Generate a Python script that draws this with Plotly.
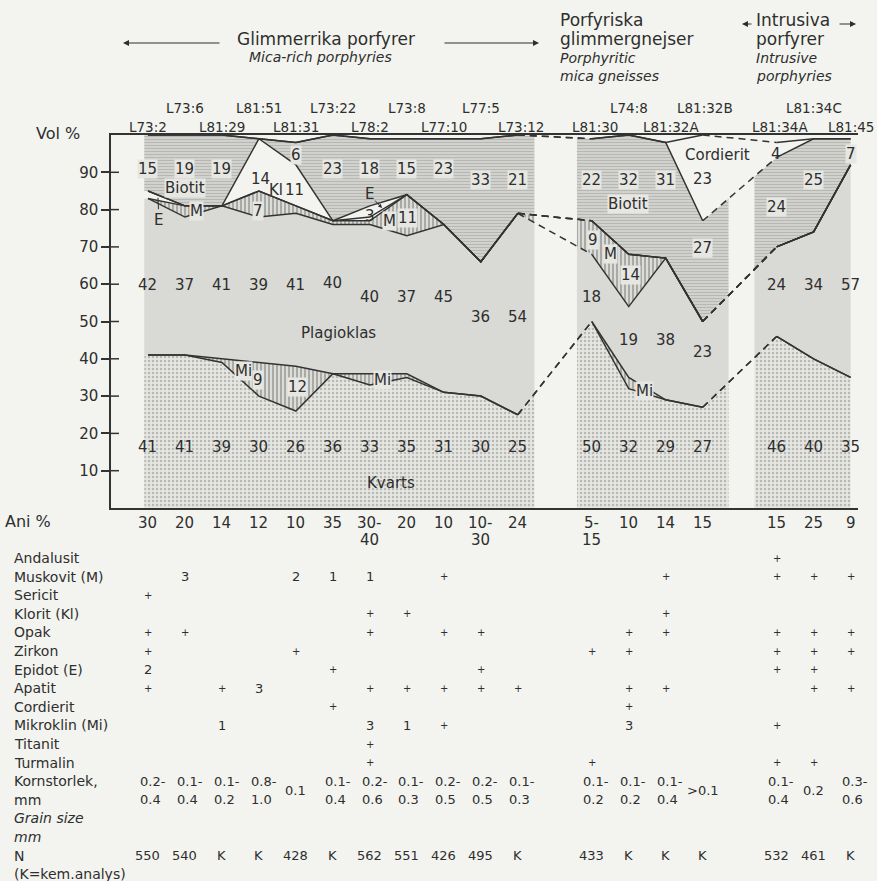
import numpy as np
import plotly.graph_objects as go

PAGE = "#f3f4ef"
INK = "#2e2e2e"
FONT = "DejaVu Sans"

# ---------------- data ----------------
columns = [0, 1, 2, 3, 4, 5, 6, 7, 8, 9, 10, 12, 13, 14, 15, 17, 18, 19]
samples = ["L73:2", "L73:6", "L81:29", "L81:51", "L81:31", "L73:22", "L78:2", "L73:8",
           "L77:10", "L77:5", "L73:12", "L81:30", "L74:8", "L81:32A", "L81:32B",
           "L81:34A", "L81:34C", "L81:45"]

kvarts     = [41, 41, 39, 30, 26, 36, 33, 35, 31, 30, 25, 50, 32, 29, 27, 46, 40, 35]
mikroklin  = [0, 0, 1, 9, 12, 0, 3, 1, 0, 0, 0, 0, 3, 0, 0, 0, 0, 0]
plagioklas = [42, 37, 41, 39, 41, 40, 40, 37, 45, 36, 54, 18, 19, 38, 23, 24, 34, 57]
muskovit   = [0, 3, 0, 7, 2, 1, 1, 11, 0, 0, 0, 9, 14, 0, 0, 0, 0, 0]
epidot     = [2, 0, 0, 0, 0, 0, 1, 0, 0, 0, 0, 0, 0, 0, 0, 0, 0, 0]
klorit     = [0, 0, 0, 14, 11, 0, 3, 0, 0, 0, 0, 0, 0, 0, 0, 0, 0, 0]
biotit     = [15, 19, 19, 0, 6, 23, 18, 15, 23, 33, 21, 22, 32, 31, 27, 24, 25, 7]
cordierit  = [0, 0, 0, 0, 0, 0, 0, 0, 0, 0, 0, 0, 0, 0, 23, 4, 0, 0]

ani = ["30", "20", "14", "12", "10", "35", "30-|40", "20", "10", "10-|30", "24",
       "5-|15", "10", "14", "15", "15", "25", "9"]

table_rows = [
    ("Andalusit",      ["", "", "", "", "", "", "", "", "", "", "", "", "", "", "", "+", "", ""]),
    ("Muskovit (M)",   ["", "3", "", "", "2", "1", "1", "", "+", "", "", "", "", "+", "", "+", "+", "+"]),
    ("Sericit",        ["+", "", "", "", "", "", "", "", "", "", "", "", "", "", "", "", "", ""]),
    ("Klorit (Kl)",    ["", "", "", "", "", "", "+", "+", "", "", "", "", "", "+", "", "", "", ""]),
    ("Opak",           ["+", "+", "", "", "", "", "+", "", "+", "+", "", "", "+", "+", "", "+", "+", "+"]),
    ("Zirkon",         ["+", "", "", "", "+", "", "", "", "", "", "", "+", "+", "", "", "+", "+", "+"]),
    ("Epidot (E)",     ["2", "", "", "", "", "+", "", "", "", "+", "", "", "", "", "", "+", "+", ""]),
    ("Apatit",         ["+", "", "+", "3", "", "", "+", "+", "+", "+", "+", "", "+", "+", "", "", "+", "+"]),
    ("Cordierit",      ["", "", "", "", "", "+", "", "", "", "", "", "", "+", "", "", "", "", ""]),
    ("Mikroklin (Mi)", ["", "", "1", "", "", "", "3", "1", "+", "", "", "", "3", "", "", "+", "", ""]),
    ("Titanit",        ["", "", "", "", "", "", "+", "", "", "", "", "", "", "", "", "", "", ""]),
    ("Turmalin",       ["", "", "", "", "", "", "+", "", "", "", "", "+", "", "", "", "+", "+", ""]),
]
kornstorlek = ["0.2-|0.4", "0.1-|0.4", "0.1-|0.2", "0.8-|1.0", "0.1", "0.1-|0.4", "0.2-|0.6",
               "0.1-|0.3", "0.2-|0.5", "0.2-|0.5", "0.1-|0.3", "0.1-|0.2", "0.1-|0.2",
               "0.1-|0.4", ">0.1", "0.1-|0.4", "0.2", "0.3-|0.6"]
n_values = ["550", "540", "K", "K", "428", "K", "562", "551", "426", "495", "K",
            "433", "K", "K", "K", "532", "461", "K"]

# ---------------- layout helpers ----------------
W, H = 877, 881
X0, X1 = 111, 858      # plot area in px
Y0, Y1 = 508, 135


def pxx(p):
    return (p - X0) / (X1 - X0)


def pxy(p):
    return (Y0 - p) / (Y0 - Y1)


layers = [kvarts, mikroklin, plagioklas, muskovit, epidot, klorit, biotit, cordierit]
cum = np.cumsum(np.array(layers, dtype=float), axis=0)
x_all = np.array(columns, dtype=float)

groups = [(0, 10, -0.1, 10.45), (12, 15, 11.6, 15.7), (17, 19, 16.4, 19.0)]

hatch_v = dict(shape="|", bgcolor="#dcddd8", fgcolor="#3c3c3c", size=4, solidity=0.32)
styles = [
    dict(fillpattern=dict(shape=".", bgcolor="#e5e6e1", fgcolor="#8a8b87", size=4, solidity=0.3)),
    dict(fillpattern=hatch_v),
    dict(fillcolor="#d9dad5"),
    dict(fillpattern=hatch_v),
    dict(fillcolor=PAGE),
    dict(fillcolor=PAGE),
    dict(fillpattern=dict(shape="-", bgcolor="#d6d7d2", fgcolor="#979894", size=3, solidity=0.45)),
    dict(fillcolor=PAGE),
]

fig = go.Figure()

# stacked fills per column group
for (c0, c1, e0, e1) in groups:
    inner = [c for c in columns if c0 <= c <= c1]
    xs = np.array([e0] + inner + [e1], dtype=float)
    fig.add_trace(go.Scatter(x=xs, y=np.zeros_like(xs), mode="lines", line=dict(width=0),
                             hoverinfo="skip", showlegend=False))
    for k in range(len(layers)):
        ys = np.interp(xs, x_all, cum[k])
        fig.add_trace(go.Scatter(x=xs, y=ys, mode="lines", line=dict(width=0), fill="tonexty",
                                 hoverinfo="skip", showlegend=False, **styles[k]))

# boundary lines: solid inside groups, dashed across the gaps
sx, sy, dx, dy = [], [], [], []
for k in range(len(layers)):
    prev_last = None
    for (c0, c1, e0, e1) in groups:
        idx = [i for i, c in enumerate(columns) if c0 <= c <= c1]
        sx += [columns[i] for i in idx] + [None]
        sy += [float(cum[k][i]) for i in idx] + [None]
        if prev_last is not None:
            dx += [columns[prev_last], columns[idx[0]], None]
            dy += [float(cum[k][prev_last]), float(cum[k][idx[0]]), None]
        prev_last = idx[-1]

fig.add_trace(go.Scatter(x=sx, y=sy, mode="lines", line=dict(color="#333333", width=1.5),
                         hoverinfo="skip", showlegend=False, connectgaps=False))
fig.add_trace(go.Scatter(x=dx, y=dy, mode="lines",
                         line=dict(color="#333333", width=1.5, dash="7px,5px"),
                         hoverinfo="skip", showlegend=False, connectgaps=False))

annotations = []


def ann(text, x, y, xref="x", yref="y", size=15, xanchor="center", yanchor="middle",
        bg=None, **kw):
    d = dict(text=text, x=x, y=y, xref=xref, yref=yref, showarrow=False,
             font=dict(family=FONT, size=size, color=INK), xanchor=xanchor, yanchor=yanchor)
    if bg:
        d["bgcolor"] = bg
        d["borderpad"] = 0
    d.update(kw)
    annotations.append(d)


LBG = "#e6e7e2"

# Kvarts numbers
for i, c in enumerate(columns):
    ann(str(kvarts[i]), c, 16.4)

# Plagioklas numbers
plag_y = [59.8, 59.8, 59.8, 59.8, 59.8, 60.3, 56.6, 56.6, 56.6, 51.2, 51.2,
          56.6, 45, 45, 41.8, 59.8, 59.8, 59.8]
for i, c in enumerate(columns):
    ann(str(plagioklas[i]), c, plag_y[i])

# Biotit numbers
bio_y = [91, 91, 91, None, 94.6, 91, 91, 91, 91, 88, 88, 88, 88, 88, 69.6, 80.7, 88, 94.9]
for i, c in enumerate(columns):
    if biotit[i] and bio_y[i] is not None:
        ann(str(biotit[i]), c, bio_y[i], bg=LBG)

# free labels
ann("Biotit", 1.0, 85.7, bg=LBG)
ann(str(klorit[3]), 3.03, 88.2)
ann("Kl", 3.46, 85.3)
ann(str(klorit[4]), 3.95, 85.3)
ann(str(muskovit[3]), 2.97, 79.6, bg=LBG)
ann("M", 1.3, 79.6, bg=LBG)
ann("E", 0.27, 83.2, showarrow=True, arrowhead=0, arrowwidth=1, arrowcolor=INK, ax=1, ay=22)
ann("E", 6.33, 80.4, showarrow=True, arrowhead=2, arrowsize=0.8, arrowwidth=1,
    arrowcolor=INK, ax=-13, ay=-14)
ann(str(klorit[6]), 6.0, 78.4)
ann("M", 6.52, 76.9, bg=LBG)
ann(str(muskovit[7]), 7.03, 77.7, bg=LBG)
ann("Mi", 2.57, 36.7, bg=LBG)
ann(str(mikroklin[3]), 2.98, 34.3, bg=LBG)
ann(str(mikroklin[4]), 4.03, 32.4, bg=LBG)
ann("Mi", 6.33, 34.3, bg=LBG)
ann("Mi", 13.44, 31.4, bg=LBG)
ann(str(muskovit[11]), 12.03, 71.8, bg=LBG)
ann("M", 12.52, 68.1, bg=LBG)
ann(str(muskovit[12]), 13.06, 62.5, bg=LBG)
ann("Biotit", 12.98, 81.5, bg=LBG)
ann("Cordierit", 15.39, 94.6)
ann(str(cordierit[14]), 15.0, 88.2)
ann(str(cordierit[15]), 16.98, 94.9)
ann("Plagioklas", 5.14, 46.9)
ann("Kvarts", 6.57, 6.7)

# sample names
name_row = [0, 1, 0, 1, 0, 1, 0, 1, 0, 1, 0, 0, 1, 0, 1, 0, 1, 0]
name_dx = [0, 0, 0, 0, 0, 0, 0, 0, 0, 0, 0.1, 0.1, 0, 0.15, 0.05, 0.1, 0, 0]
for i, c in enumerate(columns):
    ann(samples[i], c + name_dx[i], pxy(127 if name_row[i] == 0 else 108), yref="paper", size=13.5)

# header texts
ann("Vol %", pxx(34), pxy(133), xref="paper", yref="paper", size=16, xanchor="left")
ann("Glimmerrika porfyrer", pxx(326), pxy(39), xref="paper", yref="paper", size=17)
ann("<i>Mica-rich porphyries</i>", pxx(320), pxy(57), xref="paper", yref="paper", size=14)
for t, yy, sz in [("Porfyriska", 20, 17), ("glimmergnejser", 39, 17),
                  ("<i>Porphyritic</i>", 58, 14), ("<i>mica gneisses</i>", 76, 14)]:
    ann(t, pxx(558), pxy(yy), xref="paper", yref="paper", size=sz, xanchor="left")
for t, yy, sz in [("Intrusiva", 20, 17), ("porfyrer", 39, 17),
                  ("<i>Intrusive</i>", 58, 14), ("<i>porphyries</i>", 76, 14)]:
    ann(t, pxx(754), pxy(yy), xref="paper", yref="paper", size=sz, xanchor="left")

# header arrows
for (hx, hy, tx, ty) in [(123, 43, 221, 43), (539, 43, 443, 43), (742, 24, 753, 24), (856, 24, 838, 24)]:
    annotations.append(dict(text="", x=pxx(hx), y=pxy(hy), xref="paper", yref="paper",
                            showarrow=True, arrowhead=2, arrowsize=1, arrowwidth=1.2,
                            arrowcolor=INK, ax=tx - hx, ay=ty - hy))

# ---------------- table below the chart ----------------
ann("Ani %", pxx(3), pxy(521), xref="paper", yref="paper", size=16, xanchor="left")
for i, c in enumerate(columns):
    parts = ani[i].split("|")
    for j, p in enumerate(parts):
        ann(p, c, pxy(523 + 17 * j), yref="paper", size=15)

row_y0, row_dy = 558, 18.6
for r, (name, vals) in enumerate(table_rows):
    yy = row_y0 + r * row_dy
    ann(name, pxx(12), pxy(yy), xref="paper", yref="paper", size=14, xanchor="left")
    for i, c in enumerate(columns):
        v = vals[i]
        if v:
            ann(v, c, pxy(yy), yref="paper", size=10 if v == "+" else 13)

ky = row_y0 + len(table_rows) * row_dy
ann("Kornstorlek,", pxx(12), pxy(ky), xref="paper", yref="paper", size=14, xanchor="left")
ann("mm", pxx(12), pxy(ky + row_dy), xref="paper", yref="paper", size=14, xanchor="left")
ann("<i>Grain size</i>", pxx(12), pxy(ky + 2 * row_dy), xref="paper", yref="paper", size=14, xanchor="left")
ann("<i>mm</i>", pxx(12), pxy(ky + 3 * row_dy), xref="paper", yref="paper", size=14, xanchor="left")
for i, c in enumerate(columns):
    parts = kornstorlek[i].split("|")
    if len(parts) == 1:
        ann(parts[0], c, pxy(ky + row_dy / 2), yref="paper", size=13)
    else:
        for j, p in enumerate(parts):
            ann(p, c - 0.28, pxy(ky + j * row_dy), yref="paper", size=13, xanchor="left")

ny = ky + 4 * row_dy
ann("N", pxx(12), pxy(ny), xref="paper", yref="paper", size=14, xanchor="left")
ann("(K=kem.analys)", pxx(12), pxy(ny + row_dy), xref="paper", yref="paper", size=14, xanchor="left")
for i, c in enumerate(columns):
    ann(n_values[i], c, pxy(ny), yref="paper", size=13)

# inner half of y ticks (ticks cross the axis)
tickvals = [10, 20, 30, 40, 50, 60, 70, 80, 90]
shapes = [dict(type="line", xref="paper", yref="y", x0=0, x1=pxx(119), y0=t, y1=t,
               line=dict(color="#333333", width=1.5)) for t in tickvals]

fig.update_layout(
    width=W, height=H, autosize=False,
    margin=dict(l=X0, r=W - X1, t=Y1, b=H - Y0, pad=0),
    paper_bgcolor=PAGE, plot_bgcolor=PAGE,
    showlegend=False,
    xaxis=dict(range=[-1, 19.2], showgrid=False, zeroline=False, showticklabels=False,
               ticks="", showline=True, mirror=True, linecolor="#333333", linewidth=1.5,
               fixedrange=True),
    yaxis=dict(range=[0, 100], tickvals=tickvals, ticks="outside", ticklen=8, tickwidth=1.5,
               tickcolor="#333333", showgrid=False, zeroline=False, showline=True,
               linecolor="#333333", linewidth=1.5,
               tickfont=dict(family=FONT, size=15, color=INK), fixedrange=True),
    annotations=annotations,
    shapes=shapes,
)

fig.write_html("out.html")
